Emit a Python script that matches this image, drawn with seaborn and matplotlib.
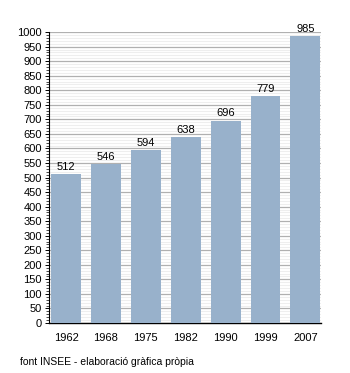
import matplotlib
matplotlib.use("Agg")
import matplotlib.pyplot as plt
import seaborn as sns
import pandas as pd
from matplotlib.ticker import MultipleLocator

years = ["1962", "1968", "1975", "1982", "1990", "1999", "2007"]
population = [512, 546, 594, 638, 696, 779, 985]
footer = "font INSEE - elaboració gràfica pròpia"

sns.set_style("white")
plt.rcParams['font.family'] = ['Liberation Sans', 'DejaVu Sans']
plt.rcParams['text.color'] = 'black'
plt.rcParams['xtick.color'] = 'black'
plt.rcParams['ytick.color'] = 'black'

df = pd.DataFrame({"year": years, "pop": population})

fig = plt.figure(figsize=(3.5, 3.73), dpi=100)
ax = fig.add_axes([0.14, 0.134, 0.777, 0.780])

sns.barplot(data=df, x="year", y="pop", color="#98B1CB", saturation=1,
            width=0.75, ax=ax, zorder=3, linewidth=0, edgecolor="none")

ax.set_ylim(0, 1000)
ax.set_xlim(-0.43, 6.39)
ax.yaxis.set_major_locator(MultipleLocator(50))
ax.yaxis.set_minor_locator(MultipleLocator(10))
ax.grid(which="minor", axis="y", color="#eeeeee", linewidth=0.8, zorder=0)
ax.grid(which="major", axis="y", color="#b0b0b0", linewidth=0.9, zorder=1)
ax.set_axisbelow(True)

for s in ["top", "right"]:
    ax.spines[s].set_visible(False)
ax.spines["left"].set_color("black")
ax.spines["left"].set_linewidth(0.8)
ax.spines["bottom"].set_color("black")
ax.spines["bottom"].set_linewidth(1.0)

ax.tick_params(axis="y", which="major", left=True, length=3, width=0.7,
               labelsize=8, pad=2, color="black", labelcolor="black")
ax.tick_params(axis="y", which="minor", left=True, length=2, width=0.5, color="black")
ax.tick_params(axis="x", bottom=False, labelsize=8, pad=4, labelcolor="black")

ax.set_xlabel("")
ax.set_ylabel("")

for i, v in enumerate(population):
    ax.text(i, v + 8, str(v), ha="center", va="bottom", fontsize=8, color="black")

fig.text(20 / 350, 1 - 362 / 373, footer, fontsize=7.5, ha="left", va="center",
         color="black")

fig.savefig("out.png", dpi=100)
